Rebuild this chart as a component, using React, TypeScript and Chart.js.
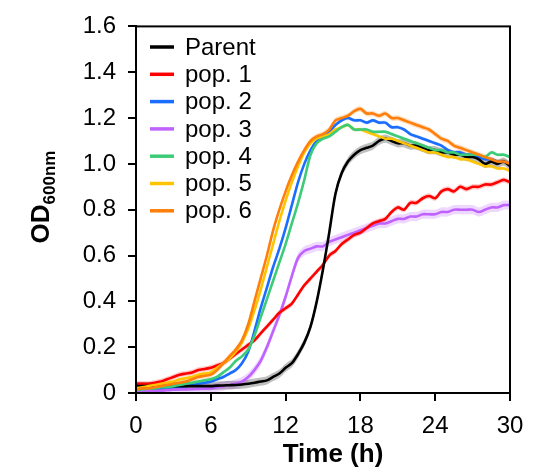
import React, { useEffect, useRef } from "react";
import { Chart, registerables } from "chart.js";
Chart.register(...registerables);

const times = [
  0, 0.5, 1, 1.5, 2, 2.5, 3, 3.5, 4, 4.5, 5, 5.5,
  6, 6.5, 7, 7.5, 8, 8.5, 9, 9.5, 10, 10.5, 11, 11.5,
  12, 12.5, 13, 13.5, 14, 14.5, 15, 15.5, 16, 16.5, 17, 17.5,
  18, 18.5, 19, 19.5, 20, 20.5, 21, 21.5, 22, 22.5, 23, 23.5,
  24, 24.5, 25, 25.5, 26, 26.5, 27, 27.5, 28, 28.5, 29, 29.5,
  30,
];

const parent = [
  0.03, 0.03, 0.03, 0.03, 0.03, 0.03, 0.03, 0.03, 0.03, 0.03, 0.03, 0.03,
  0.03, 0.032, 0.033, 0.034, 0.035, 0.037, 0.04, 0.045, 0.05, 0.055, 0.07, 0.085,
  0.11, 0.13, 0.17, 0.22, 0.29, 0.4, 0.54, 0.7, 0.87, 0.96, 1.01, 1.04,
  1.06, 1.07, 1.08, 1.1, 1.11, 1.1, 1.09, 1.09, 1.08, 1.08, 1.07, 1.06,
  1.06, 1.05, 1.05, 1.04, 1.04, 1.03, 1.03, 1.02, 1.0, 1.01, 1.0, 1.01,
  0.99,
];

const pop1 = [
  0.04, 0.04, 0.04, 0.045, 0.05, 0.06, 0.07, 0.08, 0.085, 0.09, 0.1, 0.105,
  0.11, 0.12, 0.13, 0.15, 0.17, 0.19, 0.21, 0.23, 0.26, 0.29, 0.32, 0.35,
  0.37, 0.39, 0.43, 0.47, 0.5, 0.53, 0.56, 0.6, 0.62, 0.65, 0.67, 0.69,
  0.7, 0.72, 0.74, 0.75, 0.76, 0.79, 0.81, 0.8, 0.83, 0.83, 0.85, 0.86,
  0.85, 0.88, 0.89, 0.88, 0.9, 0.89, 0.9, 0.9, 0.91, 0.91, 0.92, 0.93,
  0.92,
];

const pop2 = [
  0.01, 0.01, 0.015, 0.015, 0.02, 0.02, 0.025, 0.025, 0.03, 0.035, 0.04, 0.045,
  0.05, 0.06, 0.07, 0.085, 0.1, 0.13, 0.18, 0.27, 0.37, 0.46, 0.55, 0.63,
  0.72, 0.82, 0.92, 1.0, 1.06, 1.1, 1.12, 1.14, 1.17, 1.19, 1.2, 1.19,
  1.19, 1.18, 1.19, 1.18, 1.18, 1.16, 1.16, 1.15, 1.13, 1.12, 1.11, 1.1,
  1.09, 1.08, 1.06, 1.05, 1.05, 1.04, 1.04, 1.03, 1.02, 1.02, 1.01, 1.01,
  1.0,
];

const pop3 = [
  0.01, 0.01, 0.01, 0.01, 0.01, 0.012, 0.014, 0.015, 0.016, 0.017, 0.018, 0.019,
  0.02, 0.025, 0.03, 0.035, 0.04, 0.05, 0.07, 0.1, 0.14, 0.2, 0.27, 0.34,
  0.42, 0.51, 0.59, 0.62, 0.63, 0.64, 0.64, 0.66, 0.67, 0.68, 0.69, 0.7,
  0.71, 0.72, 0.73, 0.74, 0.74, 0.75, 0.76, 0.76, 0.77, 0.77, 0.78, 0.78,
  0.78, 0.79, 0.79, 0.8, 0.8, 0.8, 0.8, 0.79, 0.8, 0.81, 0.81, 0.82,
  0.82,
];

const pop4 = [
  0.015, 0.015, 0.02, 0.02, 0.025, 0.025, 0.03, 0.035, 0.04, 0.045, 0.05, 0.055,
  0.06, 0.07, 0.09, 0.11, 0.14, 0.16, 0.19, 0.25, 0.33, 0.41, 0.49, 0.57,
  0.65, 0.74, 0.83, 0.93, 1.04, 1.09, 1.11, 1.12, 1.14, 1.16, 1.17, 1.15,
  1.15, 1.15, 1.14, 1.14, 1.14, 1.13, 1.12, 1.11, 1.1, 1.09, 1.08, 1.07,
  1.06, 1.06, 1.05, 1.05, 1.04, 1.04, 1.04, 1.04, 1.03, 1.05, 1.04, 1.04,
  1.03,
];

const pop5 = [
  0.02, 0.025, 0.03, 0.035, 0.04, 0.045, 0.05, 0.06, 0.065, 0.07, 0.08, 0.085,
  0.09, 0.11, 0.13, 0.15, 0.18, 0.22, 0.28, 0.36, 0.45, 0.55, 0.65, 0.75,
  0.84, 0.92, 0.99, 1.05, 1.09, 1.11, 1.12, 1.13, 1.15, 1.16, 1.17, 1.15,
  1.15, 1.14, 1.13, 1.12, 1.11, 1.11, 1.1, 1.09, 1.08, 1.07, 1.06, 1.05,
  1.05, 1.04, 1.03, 1.03, 1.02, 1.02, 1.01, 1.0, 0.99, 0.99, 0.98, 0.98,
  0.97,
];

const pop6 = [
  0.015, 0.02, 0.02, 0.025, 0.03, 0.035, 0.04, 0.045, 0.05, 0.06, 0.07, 0.075,
  0.08, 0.1, 0.13, 0.16, 0.19, 0.23, 0.3, 0.4, 0.5, 0.6, 0.71, 0.8,
  0.88, 0.95, 1.01, 1.06, 1.1, 1.12, 1.13, 1.15, 1.19, 1.2, 1.21, 1.23,
  1.24, 1.22, 1.22, 1.21, 1.22, 1.2, 1.2, 1.19, 1.18, 1.17, 1.16, 1.15,
  1.13, 1.11, 1.1, 1.08, 1.07, 1.06, 1.05, 1.04, 1.03, 1.02, 1.01, 1.01,
  1.0,
];

const seriesLabels = ["Parent", "pop. 1", "pop. 2", "pop. 3", "pop. 4", "pop. 5", "pop. 6"];
const seriesValues = [parent, pop1, pop2, pop3, pop4, pop5, pop6];
const seriesSD = [0.018, 0.012, 0.008, 0.02, 0.008, 0.008, 0.012];
const seriesColors = ["#000000", "#ff0000", "#1a6dff", "#c062ff", "#3ccc78", "#ffc400", "#ff7f0a"];
const bandColors = [
  "rgba(0,0,0,0.25)",
  "rgba(255,0,0,0.2)",
  "rgba(26,109,255,0.2)",
  "rgba(192,98,255,0.25)",
  "rgba(60,204,120,0.2)",
  "rgba(255,196,0,0.2)",
  "rgba(255,127,10,0.25)",
];

const xTicks = [0, 6, 12, 18, 24, 30];
const yTicks = [0, 0.2, 0.4, 0.6, 0.8, 1.0, 1.2, 1.4, 1.6];

const FONT = "'Liberation Sans', Arial, Helvetica, sans-serif";

export default function App() {
  const ref = useRef<HTMLCanvasElement>(null);

  useEffect(() => {
    const canvas = ref.current;
    if (!canvas) return;

    const datasets: any[] = [];
    seriesValues.forEach((vals, i) => {
      datasets.push({
        label: seriesLabels[i] + " lo",
        data: times.map((t, k) => ({ x: t, y: vals[k] - seriesSD[i] })),
        borderWidth: 0,
        pointRadius: 0,
        fill: false,
        tension: 0.3,
        order: 20 + i,
      });
      datasets.push({
        label: seriesLabels[i] + " hi",
        data: times.map((t, k) => ({ x: t, y: vals[k] + seriesSD[i] })),
        borderWidth: 0,
        pointRadius: 0,
        backgroundColor: bandColors[i],
        fill: "-1",
        tension: 0.3,
        order: 20 + i,
      });
    });
    const lineOrder = [3, 4, 6, 5, 1, 2, 0, 7];
    seriesValues.forEach((vals, i) => {
      datasets.push({
        label: seriesLabels[i],
        data: times.map((t, k) => ({ x: t, y: vals[k] })),
        borderColor: seriesColors[i],
        borderWidth: 2.6,
        pointRadius: 0,
        fill: false,
        tension: 0.3,
        order: lineOrder[i],
      });
    });

    const framePlugin = {
      id: "frameAndText",
      afterDraw(chart: any) {
        const { ctx, chartArea } = chart;
        ctx.save();
        ctx.strokeStyle = "#000";
        ctx.lineWidth = 2;
        ctx.strokeRect(chartArea.left, chartArea.top, chartArea.right - chartArea.left, chartArea.bottom - chartArea.top);

        // legend
        ctx.textBaseline = "middle";
        ctx.textAlign = "left";
        ctx.font = `24px ${FONT}`;
        seriesLabels.forEach((lab, i) => {
          const y = 47 + i * 27.3;
          ctx.strokeStyle = seriesColors[i];
          ctx.lineWidth = 3.5;
          ctx.beginPath();
          ctx.moveTo(150, y);
          ctx.lineTo(174, y);
          ctx.stroke();
          ctx.fillStyle = "#000";
          ctx.fillText(lab, 185, y + 1);
        });

        // y title with subscript
        ctx.save();
        ctx.translate(40, 197);
        ctx.rotate(-Math.PI / 2);
        ctx.fillStyle = "#000";
        ctx.textBaseline = "alphabetic";
        const mainFont = `bold 26px ${FONT}`;
        const subFont = `bold 17px ${FONT}`;
        ctx.font = mainFont;
        const w1 = ctx.measureText("OD").width;
        ctx.font = subFont;
        const w2 = ctx.measureText("600nm").width;
        const start = -(w1 + w2) / 2;
        ctx.font = mainFont;
        ctx.fillText("OD", start, 9);
        ctx.font = subFont;
        ctx.fillText("600nm", start + w1, 15);
        ctx.restore();

        // x title
        ctx.font = `bold 26px ${FONT}`;
        ctx.textAlign = "center";
        ctx.textBaseline = "middle";
        ctx.fillStyle = "#000";
        ctx.fillText("Time (h)", 333, 455);
        ctx.restore();
      },
    };

    const chart = new Chart(canvas, {
      type: "line",
      data: { datasets },
      options: {
        animation: false,
        responsive: false,
        maintainAspectRatio: false,
        layout: { padding: { top: 23, right: 39, left: 0, bottom: 0 } },
        plugins: { legend: { display: false }, tooltip: { enabled: false } },
        scales: {
          x: {
            type: "linear",
            min: 0,
            max: 30,
            afterBuildTicks: (scale: any) => {
              scale.ticks = xTicks.map((v) => ({ value: v }));
            },
            afterFit: (scale: any) => {
              scale.height = 79;
            },
            ticks: {
              color: "#000",
              font: { size: 24, family: FONT },
              padding: 11,
              maxRotation: 0,
              callback: (v: any) => String(v),
            },
            grid: { drawOnChartArea: false, drawTicks: true, tickLength: 8, color: "#000", lineWidth: 2 },
            border: { display: true, color: "#000", width: 2 },
          },
          y: {
            type: "linear",
            min: 0,
            max: 1.6,
            afterBuildTicks: (scale: any) => {
              scale.ticks = yTicks.map((v) => ({ value: v }));
            },
            afterFit: (scale: any) => {
              scale.width = 136;
            },
            ticks: {
              color: "#000",
              font: { size: 24, family: FONT },
              padding: 12,
              callback: (v: any) => (Number(v) === 0 ? "0" : Number(v).toFixed(1)),
            },
            grid: { drawOnChartArea: false, drawTicks: true, tickLength: 8, color: "#000", lineWidth: 2 },
            border: { display: true, color: "#000", width: 2 },
          },
        },
      },
      plugins: [framePlugin],
    });
    return () => chart.destroy();
  }, []);

  return (
    <div style={{ position: "absolute", left: 0, top: 0, width: 549, height: 472, background: "#fff" }}>
      <canvas ref={ref} width={549} height={472} style={{ width: 549, height: 472 }} />
    </div>
  );
}
